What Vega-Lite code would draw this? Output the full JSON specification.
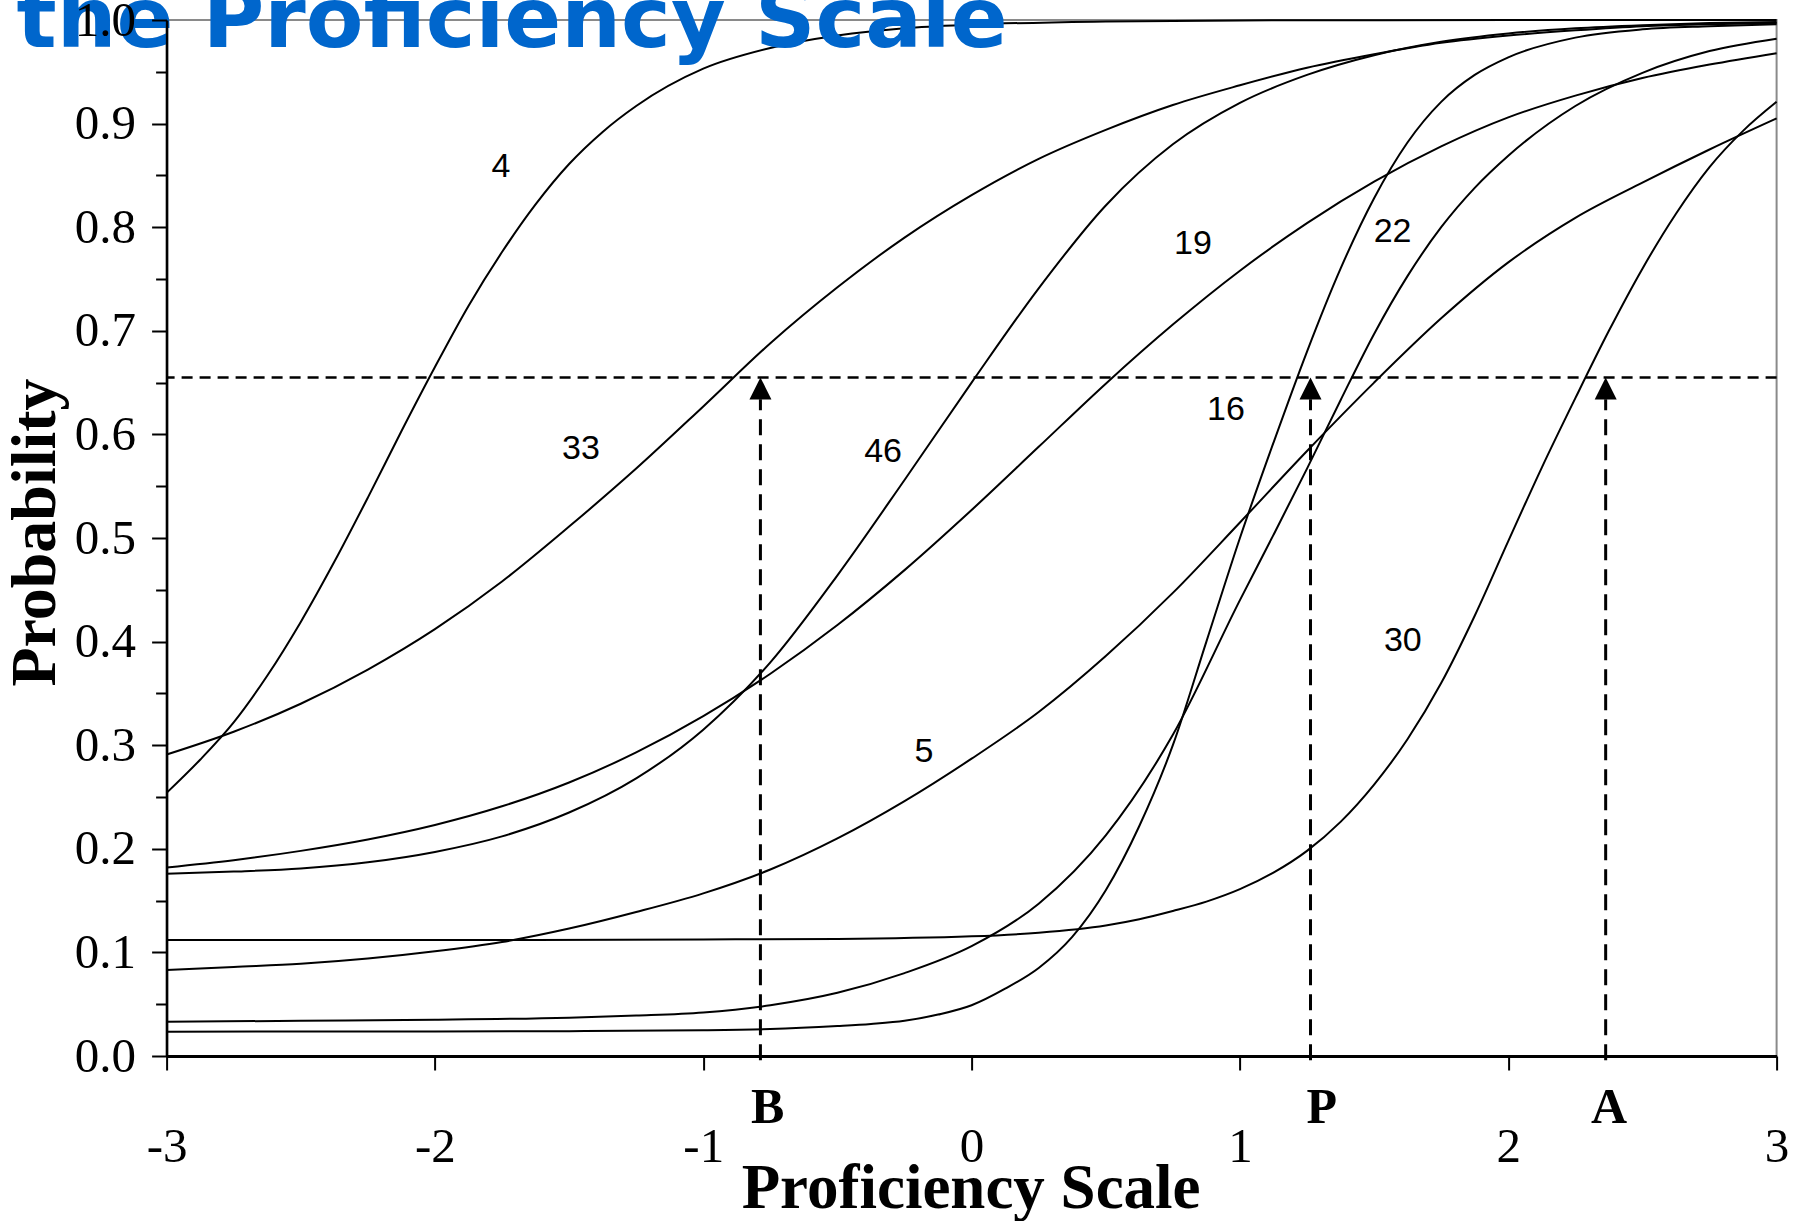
{
  "$schema": "https://vega.github.io/schema/vega-lite/v6.json",
  "width": 1610,
  "height": 1036,
  "autosize": {"type": "none"},
  "padding": {"left": 166.6, "top": 20, "right": 25.4, "bottom": 165},
  "background": "white",
  "title": {
    "text": "the Proficiency Scale",
    "anchor": "start",
    "frame": "group",
    "font": "DejaVu Sans",
    "fontSize": 84,
    "fontWeight": "bold",
    "color": "#0066cc",
    "baseline": "alphabetic",
    "offset": -135,
    "dx": -150
  },
  "config": {
    "view": {"stroke": "#8a8a8a", "strokeWidth": 2},
    "axis": {"grid": false}
  },
  "datasets": {
    "curves": [
      {"item": "4", "x": -3, "p": 0.254}, {"item": "4", "x": -2.875, "p": 0.286}, {"item": "4", "x": -2.75, "p": 0.322}, {"item": "4", "x": -2.625, "p": 0.367}, {"item": "4", "x": -2.5, "p": 0.419}, {"item": "4", "x": -2.375, "p": 0.477}, {"item": "4", "x": -2.25, "p": 0.539}, {"item": "4", "x": -2.125, "p": 0.603}, {"item": "4", "x": -2, "p": 0.665}, {"item": "4", "x": -1.875, "p": 0.724}, {"item": "4", "x": -1.75, "p": 0.776}, {"item": "4", "x": -1.625, "p": 0.822}, {"item": "4", "x": -1.5, "p": 0.861}, {"item": "4", "x": -1.375, "p": 0.892}, {"item": "4", "x": -1.25, "p": 0.917}, {"item": "4", "x": -1, "p": 0.953}, {"item": "4", "x": -0.75, "p": 0.973}, {"item": "4", "x": -0.5, "p": 0.985}, {"item": "4", "x": -0.25, "p": 0.992}, {"item": "4", "x": 0, "p": 0.9955}, {"item": "4", "x": 0.5, "p": 0.9986}, {"item": "4", "x": 1, "p": 0.9996}, {"item": "4", "x": 2, "p": 0.9999}, {"item": "4", "x": 3, "p": 1.0},

      {"item": "33", "x": -3, "p": 0.291}, {"item": "33", "x": -2.75, "p": 0.313}, {"item": "33", "x": -2.5, "p": 0.340}, {"item": "33", "x": -2.25, "p": 0.373}, {"item": "33", "x": -2, "p": 0.412}, {"item": "33", "x": -1.75, "p": 0.458}, {"item": "33", "x": -1.5, "p": 0.511}, {"item": "33", "x": -1.25, "p": 0.567}, {"item": "33", "x": -1, "p": 0.627}, {"item": "33", "x": -0.75, "p": 0.688}, {"item": "33", "x": -0.5, "p": 0.742}, {"item": "33", "x": -0.25, "p": 0.790}, {"item": "33", "x": 0, "p": 0.831}, {"item": "33", "x": 0.25, "p": 0.866}, {"item": "33", "x": 0.5, "p": 0.894}, {"item": "33", "x": 0.75, "p": 0.918}, {"item": "33", "x": 1, "p": 0.937}, {"item": "33", "x": 1.25, "p": 0.954}, {"item": "33", "x": 1.5, "p": 0.967}, {"item": "33", "x": 1.75, "p": 0.978}, {"item": "33", "x": 2, "p": 0.985}, {"item": "33", "x": 2.25, "p": 0.990}, {"item": "33", "x": 2.5, "p": 0.994}, {"item": "33", "x": 2.75, "p": 0.996}, {"item": "33", "x": 3, "p": 0.997},

      {"item": "46", "x": -3, "p": 0.176}, {"item": "46", "x": -2.75, "p": 0.178}, {"item": "46", "x": -2.5, "p": 0.181}, {"item": "46", "x": -2.25, "p": 0.187}, {"item": "46", "x": -2, "p": 0.197}, {"item": "46", "x": -1.75, "p": 0.212}, {"item": "46", "x": -1.5, "p": 0.235}, {"item": "46", "x": -1.25, "p": 0.268}, {"item": "46", "x": -1, "p": 0.315}, {"item": "46", "x": -0.75, "p": 0.380}, {"item": "46", "x": -0.5, "p": 0.464}, {"item": "46", "x": -0.25, "p": 0.556}, {"item": "46", "x": 0, "p": 0.650}, {"item": "46", "x": 0.25, "p": 0.741}, {"item": "46", "x": 0.5, "p": 0.821}, {"item": "46", "x": 0.75, "p": 0.880}, {"item": "46", "x": 1, "p": 0.920}, {"item": "46", "x": 1.25, "p": 0.947}, {"item": "46", "x": 1.5, "p": 0.966}, {"item": "46", "x": 1.75, "p": 0.979}, {"item": "46", "x": 2, "p": 0.987}, {"item": "46", "x": 2.25, "p": 0.992}, {"item": "46", "x": 2.5, "p": 0.995}, {"item": "46", "x": 2.75, "p": 0.997}, {"item": "46", "x": 3, "p": 0.998},

      {"item": "19", "x": -3, "p": 0.182}, {"item": "19", "x": -2.75, "p": 0.189}, {"item": "19", "x": -2.5, "p": 0.198}, {"item": "19", "x": -2.25, "p": 0.209}, {"item": "19", "x": -2, "p": 0.223}, {"item": "19", "x": -1.75, "p": 0.241}, {"item": "19", "x": -1.5, "p": 0.264}, {"item": "19", "x": -1.25, "p": 0.293}, {"item": "19", "x": -1, "p": 0.328}, {"item": "19", "x": -0.75, "p": 0.369}, {"item": "19", "x": -0.5, "p": 0.416}, {"item": "19", "x": -0.25, "p": 0.469}, {"item": "19", "x": 0, "p": 0.527}, {"item": "19", "x": 0.25, "p": 0.588}, {"item": "19", "x": 0.5, "p": 0.649}, {"item": "19", "x": 0.75, "p": 0.706}, {"item": "19", "x": 1, "p": 0.758}, {"item": "19", "x": 1.25, "p": 0.804}, {"item": "19", "x": 1.5, "p": 0.844}, {"item": "19", "x": 1.75, "p": 0.878}, {"item": "19", "x": 2, "p": 0.906}, {"item": "19", "x": 2.25, "p": 0.927}, {"item": "19", "x": 2.5, "p": 0.944}, {"item": "19", "x": 2.75, "p": 0.957}, {"item": "19", "x": 3, "p": 0.968},

      {"item": "5", "x": -3, "p": 0.083}, {"item": "5", "x": -2.75, "p": 0.086}, {"item": "5", "x": -2.5, "p": 0.089}, {"item": "5", "x": -2.25, "p": 0.094}, {"item": "5", "x": -2, "p": 0.101}, {"item": "5", "x": -1.75, "p": 0.110}, {"item": "5", "x": -1.5, "p": 0.123}, {"item": "5", "x": -1.25, "p": 0.139}, {"item": "5", "x": -1, "p": 0.157}, {"item": "5", "x": -0.75, "p": 0.180}, {"item": "5", "x": -0.5, "p": 0.210}, {"item": "5", "x": -0.25, "p": 0.246}, {"item": "5", "x": 0, "p": 0.287}, {"item": "5", "x": 0.25, "p": 0.332}, {"item": "5", "x": 0.5, "p": 0.386}, {"item": "5", "x": 0.75, "p": 0.447}, {"item": "5", "x": 1, "p": 0.515}, {"item": "5", "x": 1.25, "p": 0.584}, {"item": "5", "x": 1.5, "p": 0.650}, {"item": "5", "x": 1.75, "p": 0.712}, {"item": "5", "x": 2, "p": 0.766}, {"item": "5", "x": 2.25, "p": 0.809}, {"item": "5", "x": 2.5, "p": 0.843}, {"item": "5", "x": 2.75, "p": 0.875}, {"item": "5", "x": 3, "p": 0.905},

      {"item": "30", "x": -3, "p": 0.112}, {"item": "30", "x": -2, "p": 0.112}, {"item": "30", "x": -1, "p": 0.1125}, {"item": "30", "x": -0.5, "p": 0.113}, {"item": "30", "x": 0, "p": 0.1155}, {"item": "30", "x": 0.25, "p": 0.119}, {"item": "30", "x": 0.5, "p": 0.126}, {"item": "30", "x": 0.625, "p": 0.132}, {"item": "30", "x": 0.75, "p": 0.140}, {"item": "30", "x": 0.875, "p": 0.149}, {"item": "30", "x": 1, "p": 0.161}, {"item": "30", "x": 1.125, "p": 0.177}, {"item": "30", "x": 1.25, "p": 0.198}, {"item": "30", "x": 1.375, "p": 0.226}, {"item": "30", "x": 1.5, "p": 0.262}, {"item": "30", "x": 1.625, "p": 0.306}, {"item": "30", "x": 1.75, "p": 0.360}, {"item": "30", "x": 1.875, "p": 0.425}, {"item": "30", "x": 2, "p": 0.497}, {"item": "30", "x": 2.125, "p": 0.568}, {"item": "30", "x": 2.25, "p": 0.635}, {"item": "30", "x": 2.375, "p": 0.700}, {"item": "30", "x": 2.5, "p": 0.760}, {"item": "30", "x": 2.625, "p": 0.813}, {"item": "30", "x": 2.75, "p": 0.858}, {"item": "30", "x": 2.875, "p": 0.893}, {"item": "30", "x": 3, "p": 0.921},

      {"item": "22", "x": -3, "p": 0.0235}, {"item": "22", "x": -2, "p": 0.0237}, {"item": "22", "x": -1.5, "p": 0.024}, {"item": "22", "x": -1, "p": 0.0248}, {"item": "22", "x": -0.75, "p": 0.026}, {"item": "22", "x": -0.5, "p": 0.029}, {"item": "22", "x": -0.375, "p": 0.031}, {"item": "22", "x": -0.25, "p": 0.034}, {"item": "22", "x": -0.125, "p": 0.040}, {"item": "22", "x": 0, "p": 0.049}, {"item": "22", "x": 0.125, "p": 0.065}, {"item": "22", "x": 0.25, "p": 0.085}, {"item": "22", "x": 0.375, "p": 0.115}, {"item": "22", "x": 0.5, "p": 0.160}, {"item": "22", "x": 0.625, "p": 0.222}, {"item": "22", "x": 0.75, "p": 0.300}, {"item": "22", "x": 0.875, "p": 0.400}, {"item": "22", "x": 1, "p": 0.500}, {"item": "22", "x": 1.125, "p": 0.592}, {"item": "22", "x": 1.25, "p": 0.680}, {"item": "22", "x": 1.375, "p": 0.760}, {"item": "22", "x": 1.5, "p": 0.828}, {"item": "22", "x": 1.625, "p": 0.882}, {"item": "22", "x": 1.75, "p": 0.921}, {"item": "22", "x": 1.875, "p": 0.947}, {"item": "22", "x": 2, "p": 0.964}, {"item": "22", "x": 2.25, "p": 0.983}, {"item": "22", "x": 2.5, "p": 0.991}, {"item": "22", "x": 2.75, "p": 0.994}, {"item": "22", "x": 3, "p": 0.996},

      {"item": "16", "x": -3, "p": 0.033}, {"item": "16", "x": -2.5, "p": 0.034}, {"item": "16", "x": -2, "p": 0.035}, {"item": "16", "x": -1.5, "p": 0.037}, {"item": "16", "x": -1.25, "p": 0.039}, {"item": "16", "x": -1, "p": 0.042}, {"item": "16", "x": -0.75, "p": 0.049}, {"item": "16", "x": -0.5, "p": 0.061}, {"item": "16", "x": -0.25, "p": 0.080}, {"item": "16", "x": 0, "p": 0.106}, {"item": "16", "x": 0.25, "p": 0.147}, {"item": "16", "x": 0.5, "p": 0.213}, {"item": "16", "x": 0.75, "p": 0.310}, {"item": "16", "x": 1, "p": 0.440}, {"item": "16", "x": 1.125, "p": 0.503}, {"item": "16", "x": 1.25, "p": 0.567}, {"item": "16", "x": 1.375, "p": 0.633}, {"item": "16", "x": 1.5, "p": 0.697}, {"item": "16", "x": 1.625, "p": 0.753}, {"item": "16", "x": 1.75, "p": 0.800}, {"item": "16", "x": 1.875, "p": 0.838}, {"item": "16", "x": 2, "p": 0.869}, {"item": "16", "x": 2.25, "p": 0.917}, {"item": "16", "x": 2.5, "p": 0.949}, {"item": "16", "x": 2.75, "p": 0.970}, {"item": "16", "x": 3, "p": 0.982}
    ],
    "cutoffs": [
      {"letter": "B", "x": -0.787, "lx": -0.76},
      {"letter": "P", "x": 1.263, "lx": 1.305},
      {"letter": "A", "x": 2.363, "lx": 2.376}
    ],
    "threshold": [{"cut": 0.655}],
    "labels": [
      {"label": "4", "x": -1.754, "y": 0.858},
      {"label": "33", "x": -1.456, "y": 0.586},
      {"label": "46", "x": -0.33, "y": 0.583},
      {"label": "19", "x": 0.825, "y": 0.784},
      {"label": "16", "x": 0.948, "y": 0.624},
      {"label": "22", "x": 1.569, "y": 0.795},
      {"label": "5", "x": -0.178, "y": 0.293},
      {"label": "30", "x": 1.607, "y": 0.401}
    ]
  },
  "resolve": {"axis": {"y": "independent"}},
  "layer": [
    {
      "data": {"name": "curves"},
      "mark": {"type": "line", "interpolate": "monotone", "color": "black", "strokeWidth": 2},
      "encoding": {
        "x": {
          "field": "x", "type": "quantitative",
          "scale": {"domain": [-3, 3], "nice": false, "zero": false},
          "axis": {
            "values": [-3, -2, -1, 0, 1, 2, 3],
            "format": "d",
            "labelExpr": "replace(datum.label, '\u2212', '-')",
            "labelFont": "Liberation Serif", "labelFontSize": 49, "labelColor": "black",
            "labelPadding": 52, "labelFlush": false, "labelOverlap": false,
            "tickSize": 14, "tickWidth": 2, "tickColor": "black",
            "domainColor": "black", "domainWidth": 3,
            "title": "Proficiency Scale",
            "titleFont": "Liberation Serif", "titleFontSize": 63, "titleFontWeight": "bold", "titleColor": "black",
            "titleBaseline": "alphabetic", "titleAlign": "center", "titleX": 804, "titleY": 151,
            "grid": false
          }
        },
        "y": {
          "field": "p", "type": "quantitative",
          "scale": {"domain": [0, 1], "nice": false, "zero": false},
          "axis": {
            "orient": "left",
            "zindex": 1,
            "values": [0, 0.1, 0.2, 0.3, 0.4, 0.5, 0.6, 0.7, 0.8, 0.9, 1.0],
            "format": ".1f",
            "labelFont": "Liberation Serif", "labelFontSize": 49, "labelColor": "black",
            "labelPadding": 16, "labelFlush": false, "labelOverlap": false,
            "tickSize": 15, "tickWidth": 2, "tickColor": "black",
            "domainColor": "black", "domainWidth": 2.5,
            "title": "Probability",
            "titleFont": "Liberation Serif", "titleFontSize": 64, "titleFontWeight": "bold", "titleColor": "black",
            "titleAngle": -90, "titleBaseline": "alphabetic", "titleAlign": "center",
            "titleX": -112.6, "titleY": 512,
            "grid": false
          }
        },
        "detail": {"field": "item", "type": "nominal"}
      }
    },
    {
      "data": {"name": "labels"},
      "mark": {"type": "text", "font": "Liberation Sans", "fontSize": 34, "color": "black", "align": "center", "baseline": "middle"},
      "encoding": {
        "x": {"field": "x", "type": "quantitative"},
        "y": {
          "field": "y", "type": "quantitative",
          "axis": {
            "orient": "left",
            "values": [0.05, 0.15, 0.25, 0.35, 0.45, 0.55, 0.65, 0.75, 0.85, 0.95],
            "labels": false, "domain": false,
            "tickSize": 11, "tickWidth": 2, "tickColor": "black",
            "title": null, "grid": false
          }
        },
        "text": {"field": "label", "type": "nominal"}
      }
    },
    {
      "data": {"name": "threshold"},
      "mark": {"type": "rule", "color": "black", "strokeWidth": 2.5, "strokeDash": [11, 7]},
      "encoding": {
        "y": {"field": "cut", "type": "quantitative", "axis": null}
      }
    },
    {
      "data": {"name": "cutoffs"},
      "mark": {"type": "rule", "color": "black", "strokeWidth": 3, "strokeDash": [16, 9]},
      "encoding": {
        "x": {"field": "x", "type": "quantitative"},
        "y": {"datum": -0.004, "type": "quantitative", "axis": null},
        "y2": {"datum": 0.634}
      }
    },
    {
      "data": {"name": "cutoffs"},
      "mark": {"type": "point", "shape": "M0,-1L1,1L-1,1Z", "size": 484, "filled": true, "color": "black", "opacity": 1, "strokeWidth": 0},
      "encoding": {
        "x": {"field": "x", "type": "quantitative"},
        "y": {"datum": 0.6444, "type": "quantitative", "axis": null}
      }
    },
    {
      "data": {"name": "cutoffs"},
      "mark": {"type": "text", "font": "Liberation Serif", "fontSize": 50, "fontWeight": "bold", "color": "black", "align": "center", "baseline": "alphabetic"},
      "encoding": {
        "x": {"field": "lx", "type": "quantitative"},
        "y": {"datum": -0.0646, "type": "quantitative", "axis": null},
        "text": {"field": "letter", "type": "nominal"}
      }
    }
  ]
}
